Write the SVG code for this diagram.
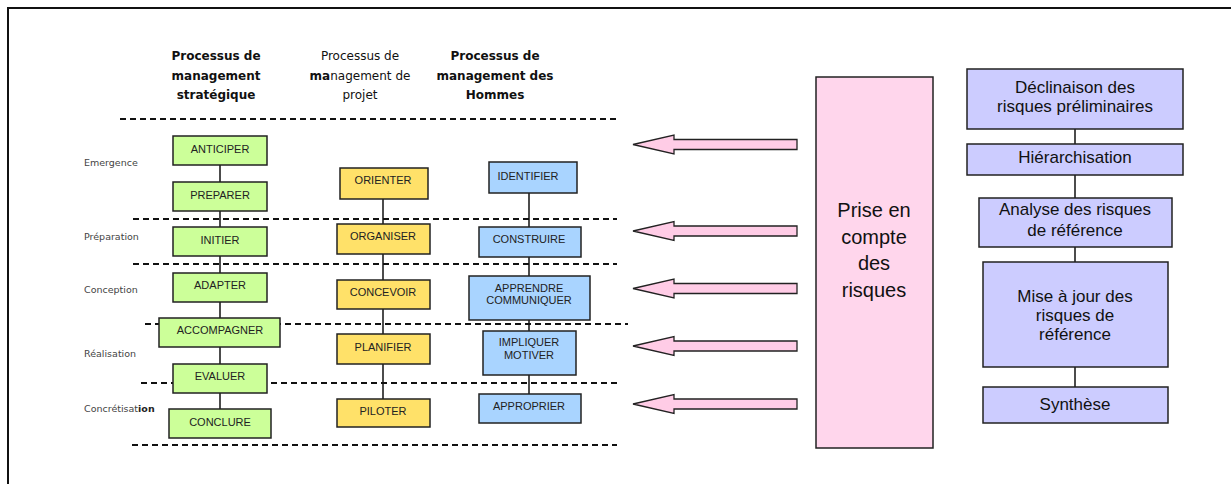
<svg xmlns="http://www.w3.org/2000/svg" width="1231" height="484" viewBox="0 0 1231 484">
<style>
.hdr{font-family:"DejaVu Sans",Verdana,sans-serif;font-size:12px;fill:#111;text-anchor:middle}
.b{font-weight:bold}
.lbl{font-family:"DejaVu Sans",Verdana,sans-serif;font-size:9.5px;fill:#444}
.n{stroke:#222;stroke-width:1.5}
.g{fill:#CCFF99}.y{fill:#FFE169}.bl{fill:#A9D4FF}.pk{fill:#FFD6EC}.lv{fill:#CCCCFF}
.t{font-family:"Liberation Sans",Arial,sans-serif;font-size:11px;fill:#222;text-anchor:middle}
.rt{font-family:"Liberation Sans",Arial,sans-serif;font-size:17px;fill:#111;text-anchor:middle}
.pt{font-family:"Liberation Sans",Arial,sans-serif;font-size:20px;fill:#111;text-anchor:middle}
.dash{stroke:#111;stroke-width:2;stroke-dasharray:6,4;fill:none}
.c{stroke:#111;stroke-width:1.5;fill:none}
.arr{fill:#FFCCE6;stroke:#222;stroke-width:1.3}
</style>
<rect width="1231" height="484" fill="#fff"/>
<path d="M8,484 V8 H1231" fill="none" stroke="#111" stroke-width="2"/>

<g id="headers">
<text class="hdr b" x="216" y="60">Processus de</text>
<text class="hdr b" x="216" y="80">management</text>
<text class="hdr b" x="216" y="99">stratégique</text>
<text class="hdr" x="360" y="60" fill="#222">Processus de</text>
<text class="hdr" x="360" y="80"><tspan class="b">ma</tspan>nagement de</text>
<text class="hdr" x="360" y="99">projet</text>
<text class="hdr b" x="495" y="60">Processus de</text>
<text class="hdr b" x="495" y="80">management des</text>
<text class="hdr b" x="495" y="99">Hommes</text>
</g>

<g id="phases">
<text class="lbl" x="84" y="165.5">Emergence</text>
<text class="lbl" x="84" y="239.5">Préparation</text>
<text class="lbl" x="84" y="292.5">Conception</text>
<text class="lbl" x="84" y="356.5">Réalisation</text>
<text class="lbl" x="84" y="411.5">Concrétisat<tspan font-weight="bold" fill="#222">ion</tspan></text>
</g>

<g id="separators">
<line class="dash" x1="120" y1="119" x2="617" y2="119"/>
<line class="dash" x1="133" y1="219" x2="617" y2="219"/>
<line class="dash" x1="133" y1="264" x2="617" y2="264"/>
<line class="dash" x1="145" y1="324" x2="628" y2="324"/>
<line class="dash" x1="141" y1="383" x2="617" y2="383"/>
<line class="dash" x1="132" y1="445" x2="617" y2="445"/>
</g>

<g id="connectors">
<line class="c" x1="220" y1="165" x2="220" y2="409"/>
<line class="c" x1="383" y1="199" x2="383" y2="399"/>
<line class="c" x1="529" y1="193" x2="529" y2="394"/>
<line class="c" x1="1075" y1="129" x2="1075" y2="387"/>
<polygon class="arr" points="633,144.5 674,135 674,139.5 797,139.5 797,149.5 674,149.5 674,154"/>
<polygon class="arr" points="633,231 674,221.5 674,226 797,226 797,236 674,236 674,240.5"/>
<polygon class="arr" points="633,288.5 674,279 674,283.5 797,283.5 797,293.5 674,293.5 674,298"/>
<polygon class="arr" points="633,346 674,336.5 674,341 797,341 797,351 674,351 674,355.5"/>
<polygon class="arr" points="633,404 674,394.5 674,399 797,399 797,409 674,409 674,413.5"/>
</g>

<g id="anticiper"><rect class="n g" x="173" y="136" width="94" height="29"/><text class="t" x="220" y="153">ANTICIPER</text></g>
<g id="preparer"><rect class="n g" x="173" y="182" width="94" height="29"/><text class="t" x="220" y="199">PREPARER</text></g>
<g id="initier"><rect class="n g" x="173" y="227" width="94" height="29"/><text class="t" x="220" y="244">INITIER</text></g>
<g id="adapter"><rect class="n g" x="173" y="273" width="94" height="29"/><text class="t" x="220" y="289">ADAPTER</text></g>
<g id="accompagner"><rect class="n g" x="159" y="318" width="121" height="29"/><text class="t" x="220" y="334">ACCOMPAGNER</text></g>
<g id="evaluer"><rect class="n g" x="173" y="364" width="94" height="29"/><text class="t" x="220" y="380">EVALUER</text></g>
<g id="conclure"><rect class="n g" x="169" y="409" width="102" height="29"/><text class="t" x="220" y="426">CONCLURE</text></g>

<g id="orienter"><rect class="n y" x="340" y="168" width="88" height="31"/><text class="t" x="383" y="184">ORIENTER</text></g>
<g id="organiser"><rect class="n y" x="337" y="224" width="93" height="30"/><text class="t" x="383" y="240">ORGANISER</text></g>
<g id="concevoir"><rect class="n y" x="337" y="280" width="93" height="29"/><text class="t" x="383" y="296">CONCEVOIR</text></g>
<g id="planifier"><rect class="n y" x="337" y="334" width="93" height="30"/><text class="t" x="383" y="351">PLANIFIER</text></g>
<g id="piloter"><rect class="n y" x="337" y="399" width="93" height="28"/><text class="t" x="383" y="415">PILOTER</text></g>

<g id="identifier"><rect class="n bl" x="489" y="162" width="88" height="31"/><text class="t" x="528" y="180">IDENTIFIER</text></g>
<g id="construire"><rect class="n bl" x="479" y="227" width="102" height="30"/><text class="t" x="529" y="243">CONSTRUIRE</text></g>
<g id="apprendre"><rect class="n bl" x="469" y="276" width="121" height="44"/><text class="t" x="529" y="292">APPRENDRE</text><text class="t" x="529" y="304">COMMUNIQUER</text></g>
<g id="impliquer"><rect class="n bl" x="483" y="331" width="93" height="44"/><text class="t" x="529" y="346">IMPLIQUER</text><text class="t" x="529" y="359">MOTIVER</text></g>
<g id="approprier"><rect class="n bl" x="479" y="394" width="102" height="29"/><text class="t" x="529" y="410">APPROPRIER</text></g>

<g id="prise"><rect class="n pk" x="816" y="77" width="117" height="371"/>
<text class="pt" x="874" y="217">Prise en</text><text class="pt" x="874" y="244">compte</text><text class="pt" x="874" y="270">des</text><text class="pt" x="874" y="297">risques</text></g>

<g id="declinaison"><rect class="n lv" x="967" y="69" width="216" height="60"/><text class="rt" x="1075" y="93">Déclinaison des</text><text class="rt" x="1075" y="112">risques préliminaires</text></g>
<g id="hierarchisation"><rect class="n lv" x="967" y="144" width="216" height="31"/><text class="rt" x="1075" y="163">Hiérarchisation</text></g>
<g id="analyse"><rect class="n lv" x="979" y="198" width="193" height="49"/><text class="rt" x="1075" y="215">Analyse des risques</text><text class="rt" x="1075" y="236">de référence</text></g>
<g id="miseajour"><rect class="n lv" x="983" y="262" width="185" height="105"/><text class="rt" x="1075" y="302">Mise à jour des</text><text class="rt" x="1075" y="321">risques de</text><text class="rt" x="1075" y="340">référence</text></g>
<g id="synthese"><rect class="n lv" x="983" y="387" width="185" height="36"/><text class="rt" x="1075" y="410">Synthèse</text></g>
</svg>
